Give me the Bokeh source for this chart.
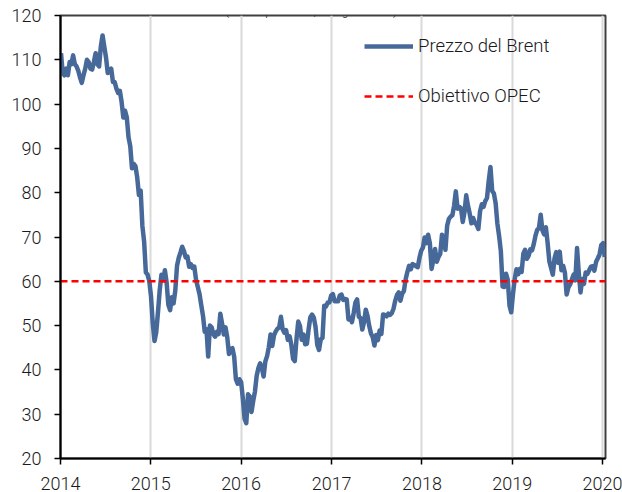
import pandas as pd
from bokeh.plotting import figure
from bokeh.models import (FixedTicker, DatetimeTickFormatter, Legend, LegendItem,
                          Label, Range1d, ColumnDataSource)
from bokeh.embed import file_html
from bokeh.resources import INLINE

# ---------------- data ----------------
title_text = "(Dollari per barile, dati giornalieri)"
series_name = "Prezzo del Brent"
target_name = "Obiettivo OPEC"
opec_target = 60
year_ticks = [2014, 2015, 2016, 2017, 2018, 2019, 2020]
y_ticks = [20, 30, 40, 50, 60, 70, 80, 90, 100, 110, 120]
first_obs = "2014-01-03"   # weekly observations from here on

brent_2014 = [111.5, 107, 106.5, 108, 106.5,
              109.5, 109, 111, 109,
              108.5, 107.5, 106, 104.8,
              106.5, 108, 110, 109.5,
              108, 107.8, 109.5, 111.5, 109,
              108.5, 113, 115.5, 113,
              110.5, 107, 107.5, 108,
              105, 105, 103.5, 102.5, 103,
              100.5, 97, 98.5, 97,
              92.5, 90.5, 85.5, 86.5, 86,
              83.5, 79.5, 80.5, 72.5,
              69, 62, 61.5, 60]
brent_2015 = [56.5, 50.5, 46.5, 48.5, 53,
              58, 61.5, 60.2, 62.5,
              59.7, 54.7, 53.5, 56.4,
              55, 57.9, 63.5, 65.3,
              66.5, 67.8, 66.8, 65.4, 65.6,
              63.3, 63.9, 63, 63.3,
              60.3, 58.7, 57.1, 54.6, 52.2,
              48.6, 49.2, 43, 50,
              49.6, 48.1, 47.5, 48.6,
              48.1, 52.7, 50.5, 48, 49.6,
              47.4, 43.6, 44.7, 44.9,
              43, 37.9, 36.9, 37.9]
brent_2016 = [37.3, 33.6, 29, 28, 34.5,
              34, 30.5, 33, 35.1,
              38.7, 40.4, 41.5, 40.4,
              38.5, 41.9, 43.1, 45.1, 48,
              45.4, 47.8, 48.7, 49.3,
              49.6, 52, 49.2, 48.4,
              49, 46.8, 47.6, 45.7, 42.5,
              42, 47, 50.9, 49.9,
              46.8, 48, 45.8, 45.9, 49.2,
              51.9, 52.5, 51.8, 49.7,
              45.6, 44.5, 46.9, 47.2,
              54.5, 54.3, 55.2, 55.2, 56.8]
brent_2017 = [57.1, 55.5, 55.5, 55.5,
              56.8, 57, 55.8, 56,
              55.9, 51.4, 51.8, 50.8, 52.8,
              55.2, 55.9, 52, 51.7,
              49.1, 50.8, 53.6, 52.2,
              49.9, 48.2, 47.4, 45.5, 47.9,
              46.7, 48.9, 48.1, 52.5,
              52.4, 52.1, 52.7, 52.4,
              52.8, 53.8, 55.6, 56.9, 57.5,
              55.6, 57.2, 57.8, 60.4,
              62.1, 63.5, 62.7, 63.9,
              63.7, 63.4, 63.2, 65.3, 66.9]
brent_2018 = [67.6, 69.9, 68.6, 70.5,
              68.6, 62.8, 64.8, 67.3,
              64.4, 65.5, 66.2, 70.5, 69.3,
              67.1, 72.6, 74.1, 74.6,
              74.9, 77.1, 80.3, 76.4,
              76.8, 76.5, 73.4, 75.6, 79.4,
              77.1, 75.3, 73.1, 74.3,
              73.2, 72.8, 71.8, 75.8, 77.4,
              76.8, 78.1, 78.8, 82.7,
              85.8, 80.4, 79.8, 77.6,
              73, 70.2, 66.8, 58.8, 58.7,
              61.7, 60.3, 54.5, 53]
brent_2019 = [57.1, 60.5, 62.7, 61.6,
              62.8, 62.1, 66.3, 67.1,
              65.1, 65.7, 67.2, 67, 68.4,
              70.3, 71.6, 72, 75,
              71.5, 70.6, 72.2, 68.7, 64.5,
              63, 61.5, 65.2, 66.6,
              64.2, 66.7, 62.5, 63.5,
              61.9, 57, 58.6, 59.3, 60.4,
              61.5, 60.2, 67.5, 61.9,
              57.5, 60.5, 59.4, 62,
              61.7, 62.5, 63.3, 63.4, 62.4,
              64.4, 65.2, 66.1, 68.2]
brent_2020 = [68.6, 65.5]

prices = brent_2014 + brent_2015 + brent_2016 + brent_2017 + brent_2018 + brent_2019 + brent_2020
dates = pd.date_range(first_obs, periods=len(prices), freq="7D")

# ---------------- styling ----------------
FONT = "Roboto Light"
BLUE = "#47699A"

x_start = pd.Timestamp("2014-01-01")
x_end = pd.Timestamp("2020-01-13")

p = figure(width=622, height=492, x_axis_type="datetime",
           x_range=Range1d(x_start, x_end), y_range=Range1d(20, 120),
           output_backend="svg", toolbar_location=None,
           min_border_left=60, min_border_right=17, min_border_top=15, min_border_bottom=34)

p.background_fill_color = "white"
p.border_fill_color = "white"
p.outline_line_color = "#404040"
p.outline_line_width = 2

src = ColumnDataSource(dict(date=dates, price=prices))
brent_r = p.line("date", "price", source=src, line_color=BLUE, line_width=4.5, line_join="round")
opec_r = p.line(x=[x_start, x_end], y=[opec_target, opec_target],
                line_color="#FF0000", line_width=2.5, line_dash="7 4")

# axes
tick_ms = [pd.Timestamp(f"{y}-01-01").value // 10**6 for y in year_ticks]
p.xaxis.ticker = FixedTicker(ticks=tick_ms)
p.xaxis.formatter = DatetimeTickFormatter(years="%Y", months="%Y", days="%Y", hours="%Y",
                                          minutes="%Y", seconds="%Y", milliseconds="%Y",
                                          microseconds="%Y", minsec="%Y", hourmin="%Y")
p.yaxis.ticker = FixedTicker(ticks=y_ticks)

for ax in (p.xaxis[0], p.yaxis[0]):
    ax.axis_line_color = "black"
    ax.axis_line_width = 2
    ax.major_tick_line_color = "black"
    ax.major_tick_line_width = 1.5
    ax.major_tick_in = 0
    ax.major_tick_out = 6
    ax.minor_tick_line_color = None
    ax.major_label_text_font = FONT
    ax.major_label_text_font_size = "18px"
    ax.major_label_text_color = "#1a1a1a"

p.xaxis.major_label_standoff = 12
p.yaxis.major_label_standoff = 13

p.xgrid.ticker = FixedTicker(ticks=tick_ms)
p.xgrid.grid_line_color = "#D9D9D9"
p.xgrid.grid_line_width = 2
p.ygrid.grid_line_color = None

legend = Legend(items=[LegendItem(label=series_name, renderers=[brent_r]),
                       LegendItem(label=target_name, renderers=[opec_r])],
                location=(304, 351), orientation="vertical")
legend.border_line_color = None
legend.background_fill_alpha = 0
legend.padding = 0
legend.margin = 0
legend.glyph_width = 49
legend.glyph_height = 20
legend.label_height = 20
legend.spacing = 28
legend.label_standoff = 5
legend.label_text_font = FONT
legend.label_text_font_size = "18.5px"
legend.label_text_color = "#1a1a1a"
p.add_layout(legend, "center")

# title: sits in the thin strip above the frame (cut off in the source picture)
title_x = x_start + (x_end - x_start) * 0.46
p.add_layout(Label(x=title_x, y=121.0, text=title_text, text_align="center",
                   text_baseline="alphabetic", text_font=FONT, text_font_size="12px",
                   text_color="#1a1a1a"))

open("out.html", "w").write(file_html(p, INLINE))
